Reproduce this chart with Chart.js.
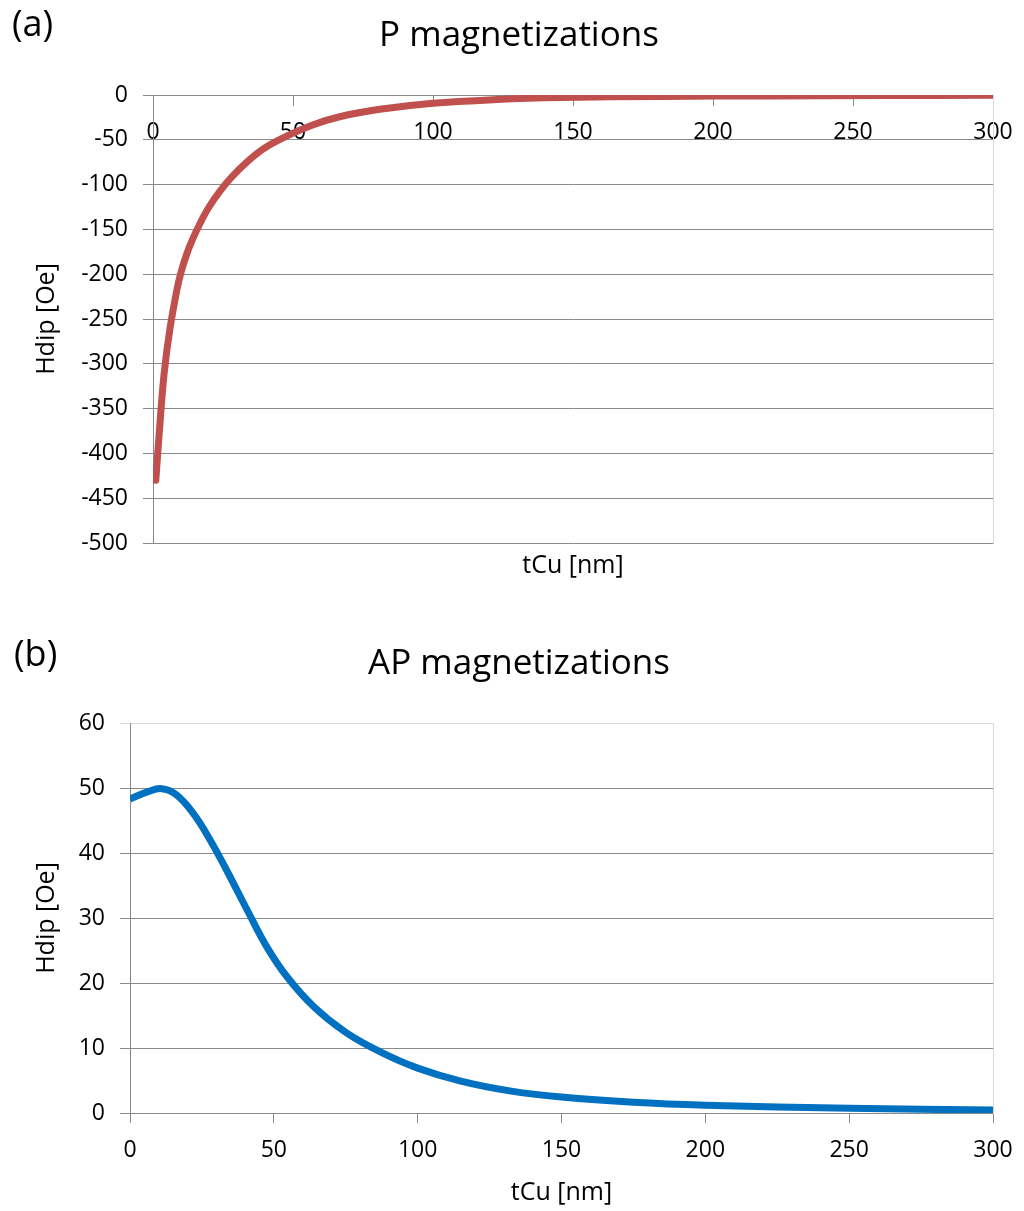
<!DOCTYPE html>
<html>
<head>
<meta charset="utf-8">
<title>Hdip vs tCu</title>
<script src="https://cdn.jsdelivr.net/npm/chart.js@4.4.1/dist/chart.umd.min.js"></script>
<style>
  html, body { margin: 0; padding: 0; background: #fff; }
  .panel { position: relative; width: 1024px; }
  .tag { position: absolute; left: 12px; font: 36px "Open Sans", sans-serif; color: #000; line-height: 1; }
  canvas { display: block; }
</style>
</head>
<body>
<div class="panel" style="height:600px">
  <div class="tag" style="top:5px">(a)</div>
  <canvas id="p-chart" width="1024" height="600"></canvas>
</div>
<div class="panel" style="height:611px">
  <div class="tag" style="top:35px;left:14px">(b)</div>
  <canvas id="ap-chart" width="1024" height="611"></canvas>
</div>
<script>
// Cu spacer thickness (nm) and dipolar field (Oe), parallel magnetizations
const pThickness = [1, 2.5, 4, 6, 8.5, 10, 12, 14, 17, 20, 24, 28, 33.5, 39, 45, 57, 67, 81, 99, 123, 146, 182, 220, 260, 300];
const pField = [-430, -366, -310, -262, -218, -198, -178, -162, -142, -125, -107, -92, -75, -61, -50, -33.5, -24, -16, -9.5, -5, -2.8, -1.6, -1, -0.6, -0.4];

// same, antiparallel magnetizations
const apThickness = [0, 6, 11, 16, 22, 28, 34, 41, 47.5, 54.5, 64, 75, 87, 100, 115, 132, 150, 175, 200, 250, 300];
const apField = [48.3, 49.4, 49.9, 49.0, 46.1, 41.9, 37.0, 31.0, 25.6, 21.0, 16.3, 12.4, 9.4, 6.9, 4.9, 3.4, 2.45, 1.65, 1.2, 0.72, 0.45];

const xRange = [0, 300];
const pRange = [-500, 0];
const apRange = [0, 60];

Chart.defaults.font.family = '"Open Sans", sans-serif';
Chart.defaults.color = '#000';

const gridGray = '#8a8a8a';
const edgeGray = '#d9d9d9';
const tickFont = { size: 23 };
const axisTitleFont = { size: 25 };
const titleFont = { size: 35, weight: 'normal' };

function toPoints(xs, ys) {
  return xs.map((x, i) => ({ x: x, y: ys[i] }));
}

// the last x label may hang into the right margin without pushing the plot in
function trimXPadding(s) {
  s.paddingLeft = 0;
  s.paddingRight = 20;
}

// light border on the right side of the plot area, also reserves the right margin
function edgeAxis(range) {
  return {
    type: 'linear',
    position: 'right',
    min: range[0],
    max: range[1],
    ticks: { display: false },
    grid: { drawOnChartArea: false, drawTicks: false },
    border: { color: edgeGray, width: 1 },
    afterFit: s => { s.width = 31; }
  };
}

// (a) P magnetizations
new Chart(document.getElementById('p-chart').getContext('2d'), {
  type: 'line',
  data: {
    datasets: [{
      data: toPoints(pThickness, pField),
      borderColor: '#c0504d',
      borderWidth: 7,
      borderCapStyle: 'round',
      pointRadius: 0,
      tension: 0.4
    }]
  },
  options: {
    responsive: false,
    animation: false,
    layout: { padding: { left: 14, right: 0, top: 0, bottom: 0 } },
    plugins: {
      legend: { display: false },
      tooltip: { enabled: false },
      title: {
        display: true,
        text: 'P magnetizations',
        font: titleFont,
        padding: { top: 15, bottom: 38 }
      }
    },
    scales: {
      x: {
        type: 'linear',
        position: { y: 0 },
        min: xRange[0],
        max: xRange[1],
        ticks: { stepSize: 50, font: tickFont, padding: 14, maxRotation: 0 },
        grid: { drawOnChartArea: false, tickLength: 10, color: gridGray },
        border: { color: gridGray },
        afterFit: trimXPadding
      },
      xTitle: {
        type: 'linear',
        position: 'bottom',
        min: xRange[0],
        max: xRange[1],
        ticks: { display: false },
        grid: { display: false, drawTicks: false },
        border: { display: false },
        title: { display: true, text: 'tCu [nm]', font: axisTitleFont, padding: { top: 10, bottom: 19 } },
        afterFit: s => { s.height = 57; trimXPadding(s); }
      },
      y: {
        min: pRange[0],
        max: pRange[1],
        ticks: { stepSize: 50, font: tickFont, padding: 15 },
        grid: { tickLength: 10, color: gridGray },
        border: { color: gridGray },
        title: { display: true, text: 'Hdip [Oe]', font: axisTitleFont, padding: { top: 18 } },
        afterFit: s => { s.width = 139; }
      },
      yEdge: edgeAxis(pRange)
    }
  }
});

// (b) AP magnetizations
new Chart(document.getElementById('ap-chart').getContext('2d'), {
  type: 'line',
  data: {
    datasets: [{
      data: toPoints(apThickness, apField),
      borderColor: '#0070c0',
      borderWidth: 7,
      borderCapStyle: 'butt',
      pointRadius: 0,
      tension: 0.4
    }]
  },
  options: {
    responsive: false,
    animation: false,
    layout: { padding: { left: 14, right: 0, top: 0, bottom: 0 } },
    plugins: {
      legend: { display: false },
      tooltip: { enabled: false },
      title: {
        display: true,
        text: 'AP magnetizations',
        font: titleFont,
        padding: { top: 43, bottom: 38 }
      }
    },
    scales: {
      x: {
        type: 'linear',
        min: xRange[0],
        max: xRange[1],
        ticks: { stepSize: 50, font: tickFont, padding: 14, maxRotation: 0 },
        grid: { drawOnChartArea: false, tickLength: 10, color: gridGray },
        border: { color: gridGray },
        title: { display: true, text: 'tCu [nm]', font: axisTitleFont, padding: { top: 14, bottom: 3 } },
        afterFit: s => { s.height = 98; trimXPadding(s); }
      },
      y: {
        min: apRange[0],
        max: apRange[1],
        ticks: { stepSize: 10, font: tickFont, padding: 15 },
        grid: {
          tickLength: 10,
          color: c => (c.tick && c.tick.value === apRange[1] ? edgeGray : gridGray)
        },
        border: { color: gridGray },
        title: { display: true, text: 'Hdip [Oe]', font: axisTitleFont, padding: { top: 18 } },
        afterFit: s => { s.width = 116; }
      },
      yEdge: edgeAxis(apRange)
    }
  }
});
</script>
</body>
</html>
